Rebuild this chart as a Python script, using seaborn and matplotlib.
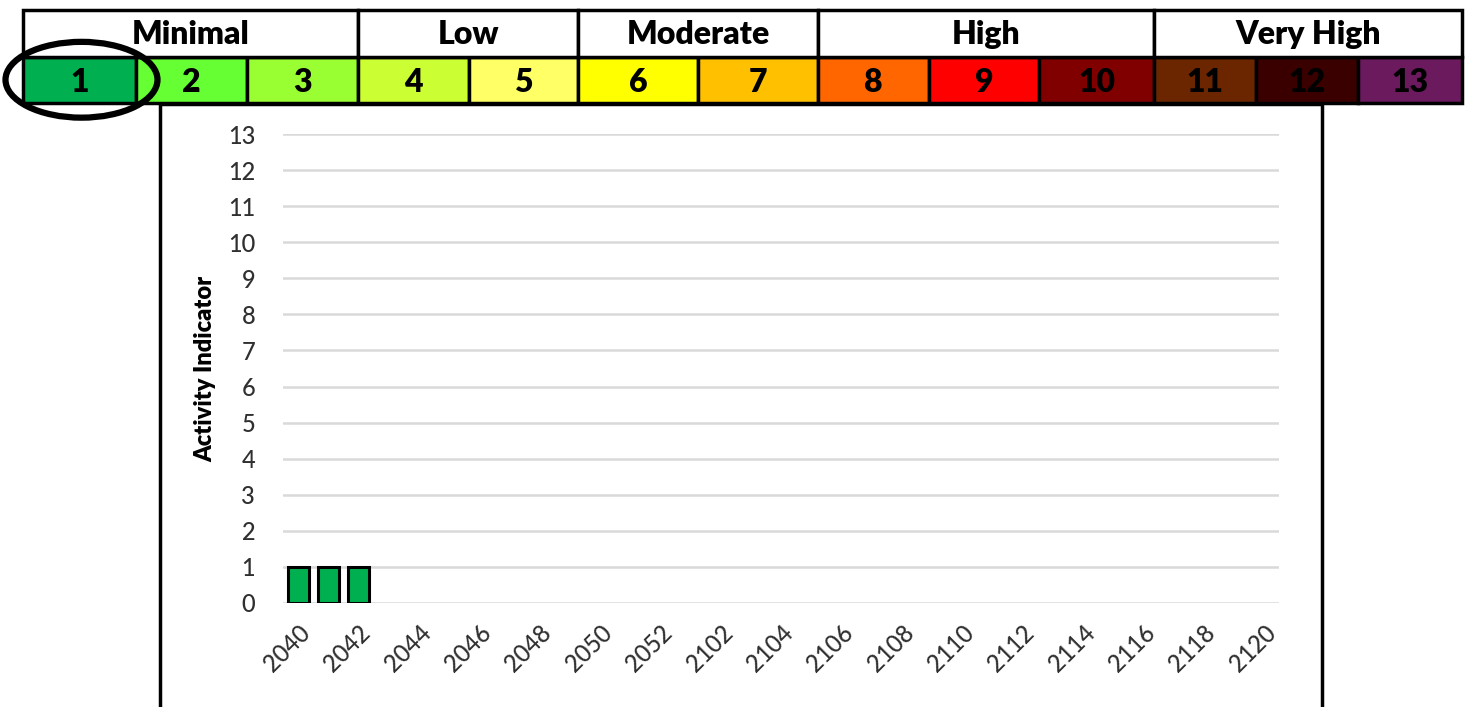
import matplotlib
matplotlib.use("Agg")
import matplotlib.pyplot as plt
from matplotlib.patches import Ellipse, Rectangle
import seaborn as sns

# ------------------------------------------------------
# Data
# ------------------------------------------------------
weeks = ["2040", "2041", "2042", "2043", "2044", "2045", "2046", "2047",
         "2048", "2049", "2050", "2051", "2052",
         "2101", "2102", "2103", "2104", "2105", "2106", "2107", "2108",
         "2109", "2110", "2111", "2112", "2113", "2114", "2115", "2116",
         "2117", "2118", "2119", "2120"]
activity = [1, 1, 1, 0, 0, 0, 0, 0, 0, 0, 0, 0, 0,
            0, 0, 0, 0, 0, 0, 0, 0, 0, 0, 0, 0, 0, 0, 0, 0, 0, 0, 0, 0]

levels = ["1", "2", "3", "4", "5", "6", "7", "8", "9", "10", "11", "12", "13"]
level_colors = ["#00B050", "#66FF33", "#99FF33", "#CCFF33", "#FFFF66",
                "#FFFF00", "#FFC000", "#FF6600", "#FF0000", "#800000",
                "#6B2600", "#3A0000", "#6B1A5E"]
groups = ["Minimal", "Low", "Moderate", "High", "Very High"]
group_sizes = [3, 2, 2, 3, 3]
current_level = 1

# ------------------------------------------------------
# Layout (pixels of the 1467 x 707 figure)
# ------------------------------------------------------
W, H = 1467, 707
cell_px = [113, 111, 111, 111, 109, 120, 120, 111, 110, 115, 102, 102, 104]


def fig_rect(l, t, r, b):
    return [l / W, 1 - b / H, (r - l) / W, (b - t) / H]


sns.set_theme(style="white")
plt.rcParams["font.family"] = ["Lato", "DejaVu Sans"]

fig = plt.figure(figsize=(W / 100, H / 100), dpi=100)

# ------------------------------------------------------
# Level strip on top
# ------------------------------------------------------
sx = fig.add_axes(fig_rect(23, 10, 1462, 103))
lefts = [sum(cell_px[:i]) for i in range(len(cell_px))]
sx.bar(lefts, 1, width=cell_px, bottom=0, align="edge", color=level_colors,
       edgecolor="black", linewidth=2.5, clip_on=False)
for lv, x0, w in zip(levels, lefts, cell_px):
    sx.text(x0 + w / 2, 0.45, lv, ha="center", va="center",
            fontsize=23, fontweight="heavy", color="black")

g_lefts, g_widths, start = [], [], 0
for n in group_sizes:
    g_lefts.append(lefts[start])
    g_widths.append(sum(cell_px[start:start + n]))
    start += n
sx.bar(g_lefts, 1, width=g_widths, bottom=1, align="edge", color="white",
       edgecolor="black", linewidth=2.5, clip_on=False)
for name, x0, w in zip(groups, g_lefts, g_widths):
    sx.text(x0 + w / 2, 1.47, name, ha="center", va="center",
            fontsize=23, fontweight="heavy", color="black")

sx.set_xlim(0, sum(cell_px))
sx.set_ylim(0, 2)
sx.axis("off")

# circle round the current level
i = levels.index(str(current_level))
sx.add_patch(Ellipse((lefts[i] + cell_px[i] / 2 + 2, 0.5), 152, 1.63,
                     fill=False, edgecolor="black", linewidth=4.5,
                     clip_on=False, zorder=5))

# frame of the chart
fig.add_artist(Rectangle((160 / W, -0.1), (1322 - 160) / W, 1 - 104 / H + 0.1,
                         transform=fig.transFigure, fill=False,
                         edgecolor="black", linewidth=2.5))

# ------------------------------------------------------
# Bar chart
# ------------------------------------------------------
ax = fig.add_axes(fig_rect(283, 134, 1279, 603))
sns.barplot(x=weeks, y=activity, color="#00B050", saturation=1,
            edgecolor="black", linewidth=2.2, width=0.7, ax=ax)
for p in ax.patches:
    if p.get_height() == 0:
        p.set_visible(False)

ax.set_ylim(0, 13)
ax.set_xlim(-0.5, len(weeks) - 0.5)
ax.set_yticks(range(0, 14))
ax.set_xticks(range(0, len(weeks), 2))
ax.set_xticklabels(weeks[::2], rotation=45, ha="right",
                   rotation_mode="anchor")
ax.tick_params(axis="both", length=0, labelsize=17, colors="#303030")
ax.tick_params(axis="y", pad=20)
ax.tick_params(axis="x", pad=13)
for lab in ax.get_xticklabels() + ax.get_yticklabels():
    lab.set_fontweight("medium")
ax.grid(axis="y", color="#D9D9D9", linewidth=1.8)
ax.set_axisbelow(True)
for s in ax.spines.values():
    s.set_visible(False)
ax.set_ylabel("Activity Indicator", fontsize=17, fontweight="heavy",
              color="black")
ax.yaxis.set_label_coords((216 - 283) / 996, 0.5)

fig.savefig("out.png", dpi=100)
